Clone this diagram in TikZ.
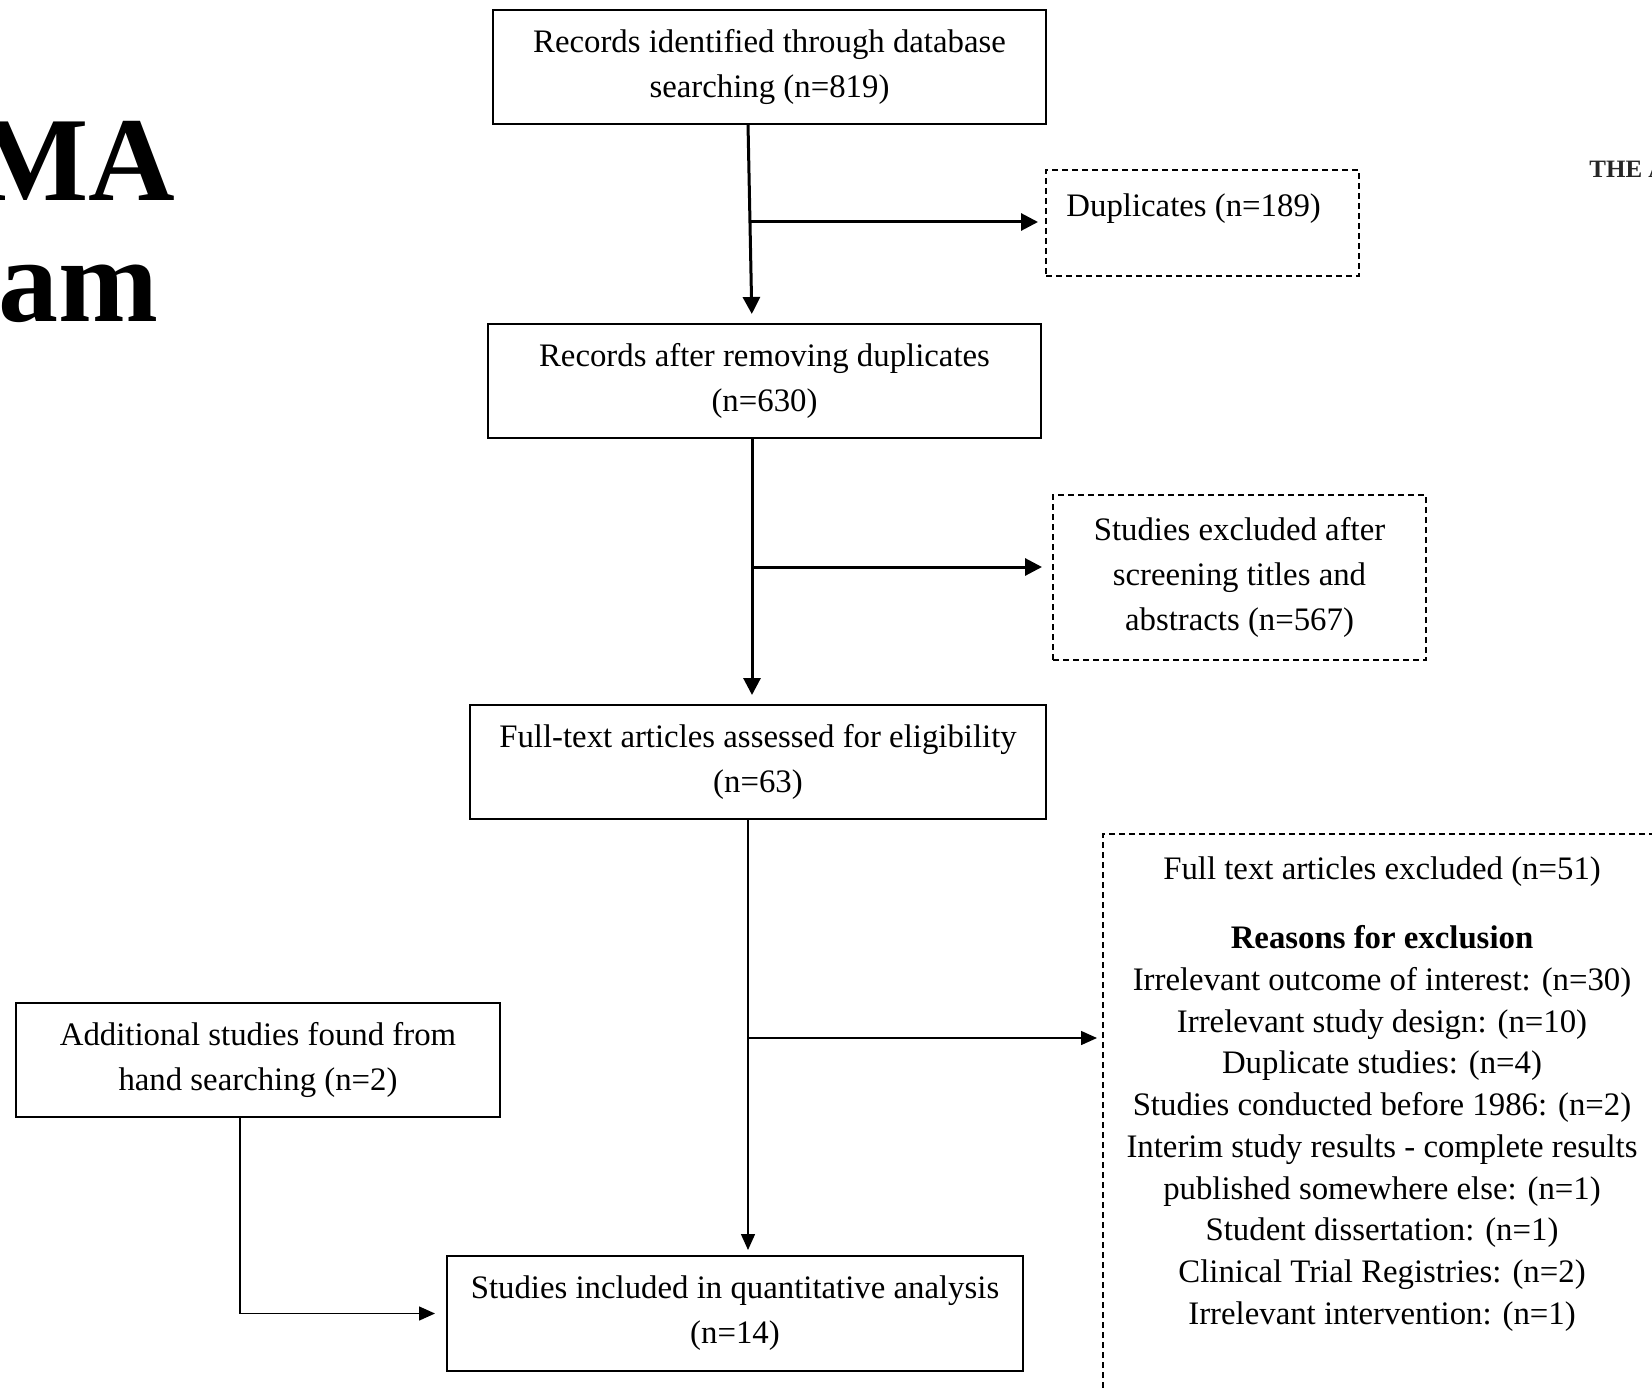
\documentclass[tikz,border=0pt]{standalone}
\usepackage{fontspec}
\setmainfont{Liberation Serif}
\usetikzlibrary{arrows.meta}

\tikzset{
  box/.style = {draw, line width=1pt, inner sep=0pt, outer sep=0pt, align=center,
    font=\fontsize{16.4pt}{22.5pt}\selectfont},
  dashbox/.style = {draw, dash pattern=on 3pt off 2pt, line width=0.7pt, inner sep=0pt,
    outer sep=0pt, align=center, font=\fontsize{16.4pt}{22.5pt}\selectfont},
  flow/.style = {line width=1.5pt, -{Triangle[length=8.5pt, width=8.5pt]}},
  thinflow/.style = {line width=0.75pt, -{Triangle[length=8pt, width=7pt]}},
  reasonlist/.style = {inner sep=0pt, align=center, font=\fontsize{16.4pt}{20.85pt}\selectfont},
  heading/.style = {inner sep=0pt, font=\fontsize{60pt}{60pt}\selectfont\bfseries}
}

\begin{document}
\begin{tikzpicture}[x=0.5pt, y=0.5pt]
  \useasboundingbox (0, 0) rectangle (1652, -1391);
  \clip (0, 0) rectangle (1652, -1391);

  \node (prisma) at (176, -200) [heading, anchor=base east] {PRISMA};
  \node (diagram) at (159, -321) [heading, anchor=base east] {Diagram};
  \node (journal) at (1589, -177) [anchor=base west, inner sep=0pt, text=black!85,
    font=\fontsize{12.5pt}{12.5pt}\selectfont\bfseries] {THE A};

  \node (ident) at (769.5, -67) [box, minimum width=276.5pt, minimum height=56.75pt]
    {Records identified through database\\searching (n=819)};
  \node (dup) at (1202.5, -223) [dashbox, minimum width=156.5pt, minimum height=53pt] {};
  \node (duptext) at ([xshift=10pt, yshift=-19.5pt]dup.north west) [anchor=west, inner sep=0pt,
    font=\fontsize{16.4pt}{22.5pt}\selectfont] {Duplicates (n=189)};
  \node (dedup) at (764.5, -381) [box, minimum width=276.5pt, minimum height=57pt]
    {Records after removing duplicates\\(n=630)};
  \node (excl) at (1239.5, -577.5) [dashbox, minimum width=186.5pt, minimum height=82.5pt]
    {Studies excluded after\\screening titles and\\abstracts (n=567)};
  \node (full) at (758, -762) [box, minimum width=288pt, minimum height=57pt]
    {Full-text articles assessed for eligibility\\(n=63)};
  \node (hand) at (258, -1060) [box, minimum width=242pt, minimum height=57pt]
    {Additional studies found from\\hand searching (n=2)};
  \node (incl) at (735, -1313.5) [box, minimum width=288pt, minimum height=57.5pt]
    {Studies included in quantitative analysis\\(n=14)};
  \node (reasons) at (1382, -1117) [dashbox, minimum width=279pt, minimum height=283pt] {};
  \node (reasontext) at ([yshift=-11pt]reasons.north) [reasonlist, anchor=north]
    {Full text articles excluded (n=51)\\[14pt]
     \textbf{Reasons for exclusion}\\
     Irrelevant outcome of interest: (n=30)\\
     Irrelevant study design: (n=10)\\
     Duplicate studies: (n=4)\\
     Studies conducted before 1986: (n=2)\\
     Interim study results - complete results\\
     published somewhere else: (n=1)\\
     Student dissertation: (n=1)\\
     Clinical Trial Registries: (n=2)\\
     Irrelevant intervention: (n=1)};

  \coordinate (dupfork) at (750, -222);
  \coordinate (exclfork) at (752, -567);
  \coordinate (fullfork) at (748, -1038);

  \draw [flow, shorten >=5pt] ([xshift=-10.75pt]ident.south) -- ([xshift=-6.25pt]dedup.north);
  \draw [flow, shorten >=4pt] (dupfork) -- (dupfork -| dup.west);
  \draw [flow, shorten >=5pt] ([xshift=-6.25pt]dedup.south) -- ([xshift=-3pt]full.north);
  \draw [flow, shorten >=5.5pt] (exclfork) -- (exclfork -| excl.west);
  \draw [thinflow, shorten >=3pt] ([xshift=-5pt]full.south) -- ([xshift=6.5pt]incl.north);
  \draw [thinflow, shorten >=3pt] (fullfork) -- (fullfork -| reasons.west);
  \draw [thinflow, shorten >=6pt] ([xshift=-9pt]hand.south) |- (incl.west);
\end{tikzpicture}
\end{document}
